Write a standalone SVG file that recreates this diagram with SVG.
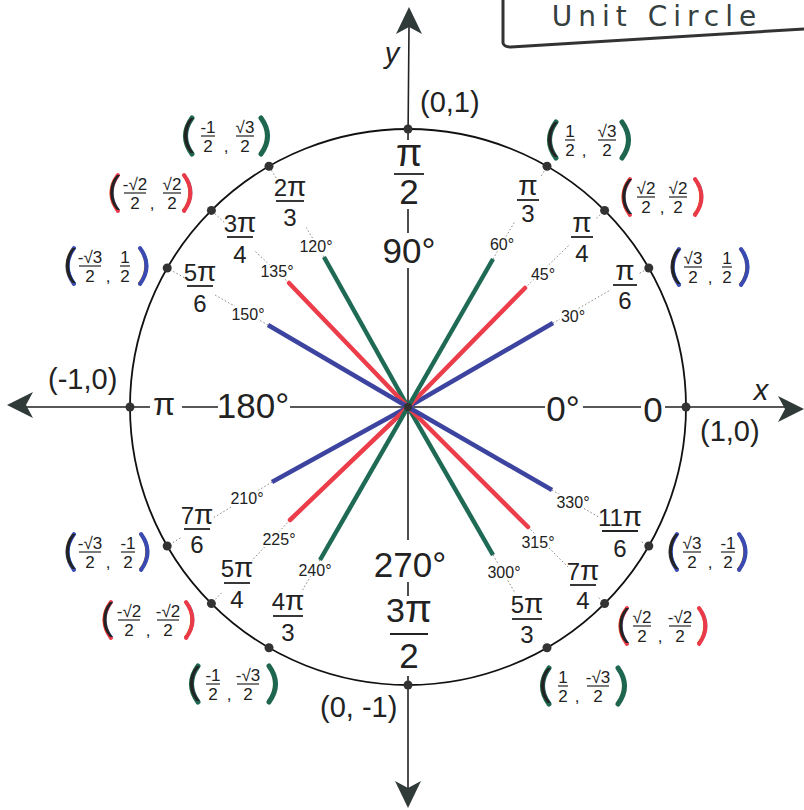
<svg xmlns="http://www.w3.org/2000/svg" width="804" height="810" viewBox="0 0 804 810">
<style>
text{font-family:"Liberation Sans",Arial,sans-serif;fill:#222;text-anchor:middle}
.ax{stroke:#222;stroke-width:1.6;fill:none}
.circ{fill:none;stroke:#111;stroke-width:1.8}
.dot{fill:#333}
.dotted{stroke:#777;stroke-width:0.9;stroke-dasharray:1.5 2.2;fill:none}
.ray{stroke-width:4.5;fill:none}
.blue{stroke:#3d44a0}
.red{stroke:#ec3d4b;stroke-linecap:round}
.green{stroke:#1e6a55}
.deg{font-size:16px;stroke:#fff;stroke-width:4;paint-order:stroke}
.rad{font-size:24px}
.pi{font-size:28px}
.big{font-size:35px;stroke:#fff;stroke-width:4;paint-order:stroke}
.bar{stroke:#222;stroke-width:1.8}
.bg{fill:#fff}
.fn{font-size:17px}
.fb{stroke:#222;stroke-width:1.2}
.pa{font-size:37px}
.hl{fill:none;stroke-width:4;stroke-linecap:round}
.hg{stroke:#1f6650;stroke-width:5}
.hr{stroke:#ea3a4a}
.hb{stroke:#3b4ab0}
.lbl{font-size:29px;text-anchor:start}
.arr{fill:#2f3a39}
</style>

<g id="title">
<path d="M503,0 L503,43 Q504,47 511,47 L804,29" fill="none" stroke="#333" stroke-width="3"/>
<text x="657" y="26" style="font-family:'DejaVu Sans',sans-serif;font-size:28px;letter-spacing:6px;fill:#36403f">Unit  Circle</text>
</g>

<g id="connectors">
<line class="dotted" x1="553" y1="323" x2="648.8" y2="268"/>
<line class="dotted" x1="525" y1="288" x2="604.6" y2="210.4"/>
<line class="dotted" x1="493" y1="259" x2="547" y2="166.2"/>
<line class="dotted" x1="324" y1="257" x2="269" y2="166.2"/>
<line class="dotted" x1="289" y1="283" x2="211.4" y2="210.4"/>
<line class="dotted" x1="268" y1="325" x2="167.2" y2="268"/>
<line class="dotted" x1="272" y1="482" x2="167.2" y2="546"/>
<line class="dotted" x1="290" y1="520" x2="211.4" y2="603.6"/>
<line class="dotted" x1="320" y1="560" x2="269" y2="647.8"/>
<line class="dotted" x1="493" y1="555" x2="547" y2="647.8"/>
<line class="dotted" x1="528" y1="527" x2="604.6" y2="603.6"/>
<line class="dotted" x1="552" y1="490" x2="648.8" y2="546"/>
</g>

<g id="radians">
<g id="r30"><rect class="bg" x="611" y="262" width="28" height="51"/><text class="rad" x="625" y="280"><tspan class="pi">π</tspan></text><line class="bar" x1="613" x2="637" y1="285" y2="285"/><text class="rad" x="625" y="309">6</text></g>
<g id="r45"><rect class="bg" x="569" y="214" width="26" height="51"/><text class="rad" x="582" y="232"><tspan class="pi">π</tspan></text><line class="bar" x1="571" x2="593" y1="237" y2="237"/><text class="rad" x="582" y="262">4</text></g>
<g id="r60"><rect class="bg" x="515" y="177" width="26" height="47"/><text class="rad" x="528" y="195"><tspan class="pi">π</tspan></text><line class="bar" x1="517" x2="539" y1="200" y2="200"/><text class="rad" x="528" y="222">3</text></g>
<g id="r120"><rect class="bg" x="274" y="178" width="32" height="51"/><text class="rad" x="290" y="196">2<tspan class="pi">π</tspan></text><line class="bar" x1="276" x2="304" y1="201" y2="201"/><text class="rad" x="290" y="226">3</text></g>
<g id="r135"><rect class="bg" x="225" y="210" width="30" height="56"/><text class="rad" x="240" y="232">3<tspan class="pi">π</tspan></text><line class="bar" x1="227" x2="253" y1="237" y2="237"/><text class="rad" x="240" y="263">4</text></g>
<g id="r150"><rect class="bg" x="185" y="262" width="30" height="53"/><text class="rad" x="200" y="281">5<tspan class="pi">π</tspan></text><line class="bar" x1="187" x2="213" y1="286" y2="286"/><text class="rad" x="200" y="312">6</text></g>
<g id="r210"><rect class="bg" x="182" y="505" width="30" height="51"/><text class="rad" x="197" y="524">7<tspan class="pi">π</tspan></text><line class="bar" x1="184" x2="210" y1="529" y2="529"/><text class="rad" x="197" y="553">6</text></g>
<g id="r225"><rect class="bg" x="222" y="558" width="30" height="53"/><text class="rad" x="237" y="577">5<tspan class="pi">π</tspan></text><line class="bar" x1="224" x2="250" y1="583" y2="583"/><text class="rad" x="237" y="608">4</text></g>
<g id="r240"><rect class="bg" x="271" y="590" width="34" height="54"/><text class="rad" x="288" y="610">4<tspan class="pi">π</tspan></text><line class="bar" x1="273" x2="303" y1="616" y2="616"/><text class="rad" x="288" y="641">3</text></g>
<g id="r300"><rect class="bg" x="510" y="593" width="34" height="53"/><text class="rad" x="527" y="613">5<tspan class="pi">π</tspan></text><line class="bar" x1="512" x2="542" y1="619" y2="619"/><text class="rad" x="527" y="643">3</text></g>
<g id="r315"><rect class="bg" x="568" y="559" width="30" height="53"/><text class="rad" x="583" y="580">7<tspan class="pi">π</tspan></text><line class="bar" x1="570" x2="596" y1="585" y2="585"/><text class="rad" x="583" y="609">4</text></g>
<g id="r330"><rect class="bg" x="600" y="506" width="40" height="54"/><text class="rad" x="620" y="526">11<tspan class="pi">π</tspan></text><line class="bar" x1="602" x2="638" y1="531" y2="531"/><text class="rad" x="620" y="557">6</text></g>
<g id="r90"><text class="rad" x="409" y="166" style="font-size:38px">π</text><line class="bar" x1="394" x2="424" y1="174" y2="174"/><text class="rad" x="409" y="204" style="font-size:35px">2</text></g>
<g id="r270"><text class="rad" x="409" y="622" style="font-size:34px">3<tspan style="font-size:39px">π</tspan></text><line class="bar" x1="390" x2="428" y1="634" y2="634"/><text class="rad" x="409" y="668" style="font-size:35px">2</text></g>
</g>

<g id="degrees">
<text class="deg" x="573" y="322">30°</text>
<text class="deg" x="543" y="280">45°</text>
<text class="deg" x="502" y="250">60°</text>
<text class="deg" x="316" y="252">120°</text>
<text class="deg" x="277" y="277">135°</text>
<text class="deg" x="248" y="320">150°</text>
<text class="deg" x="247" y="504">210°</text>
<text class="deg" x="279" y="545">225°</text>
<text class="deg" x="315" y="576">240°</text>
<text class="deg" x="504" y="578">300°</text>
<text class="deg" x="538" y="548">315°</text>
<text class="deg" x="573" y="508">330°</text>
</g>

<g id="axes">
<path class="ax" d="M409,27 L408,140 M408,209 L408,233 M408,268 L408,540 M408,582 L408,596 M408,676 L408,788"/>
<path class="ax" d="M26,407 L150,407 M182,407 L218,407 M290,407 L545,407 M583,407 L641,407 M665,407 L786,407"/>
<path class="arr" d="M409,7 L422,34 L409,27 L396,34 Z"/>
<path class="arr" d="M408,808 L395,781 L408,788 L421,781 Z"/>
<path class="arr" d="M7,405 L33,392 L26,405 L33,418 Z"/>
<path class="arr" d="M804,409 L778,396 L785,409 L778,422 Z"/>
<text class="big" x="409" y="263">90°</text>
<text class="big" x="410" y="577">270°</text>
<text class="big" x="253" y="418">180°</text>
<text class="big" x="563" y="421">0°</text>
<text class="big" x="653" y="422">0</text>
<text x="164" y="415" style="font-size:32px">π</text>
<text class="lbl" x="761" y="400" style="text-anchor:middle;font-style:italic">x</text>
<text class="lbl" x="392" y="63" style="text-anchor:middle;font-style:italic">y</text>
</g>

<g id="circle">
<circle class="circ" cx="408" cy="407" r="278"/>
</g>

<g id="rays">
<line class="ray blue" x1="408" y1="407" x2="553" y2="323"/>
<line class="ray red" x1="408" y1="407" x2="525" y2="288"/>
<line class="ray green" x1="408" y1="407" x2="493" y2="259"/>
<line class="ray green" x1="408" y1="407" x2="324" y2="257"/>
<line class="ray red" x1="408" y1="407" x2="289" y2="283"/>
<line class="ray blue" x1="408" y1="407" x2="268" y2="325"/>
<line class="ray blue" x1="408" y1="407" x2="272" y2="482"/>
<line class="ray red" x1="408" y1="407" x2="290" y2="520"/>
<line class="ray green" x1="408" y1="407" x2="320" y2="560"/>
<line class="ray green" x1="408" y1="407" x2="493" y2="555"/>
<line class="ray red" x1="408" y1="407" x2="528" y2="527"/>
<line class="ray blue" x1="408" y1="407" x2="552" y2="490"/>
<circle cx="408" cy="407" r="4" fill="#333"/>
</g>

<g id="dots">
<circle class="dot" cx="408" cy="129" r="4.5"/>
<circle class="dot" cx="686" cy="407" r="4.5"/>
<circle class="dot" cx="130" cy="407" r="4.5"/>
<circle class="dot" cx="408" cy="685" r="4.5"/>
<circle class="dot" cx="648.8" cy="268" r="4.5"/>
<circle class="dot" cx="604.6" cy="210.4" r="4.5"/>
<circle class="dot" cx="547" cy="166.2" r="4.5"/>
<circle class="dot" cx="269" cy="166.2" r="4.5"/>
<circle class="dot" cx="211.4" cy="210.4" r="4.5"/>
<circle class="dot" cx="167.2" cy="268" r="4.5"/>
<circle class="dot" cx="167.2" cy="546" r="4.5"/>
<circle class="dot" cx="211.4" cy="603.6" r="4.5"/>
<circle class="dot" cx="269" cy="647.8" r="4.5"/>
<circle class="dot" cx="547" cy="647.8" r="4.5"/>
<circle class="dot" cx="604.6" cy="603.6" r="4.5"/>
<circle class="dot" cx="648.8" cy="546" r="4.5"/>
</g>

<g id="axis-points">
<text class="lbl" x="420" y="112">(0,1)</text>
<text class="lbl" x="48" y="389">(-1,0)</text>
<text class="lbl" x="700" y="441">(1,0)</text>
<text class="lbl" x="320" y="717">(0, -1)</text>
</g>

<g id="pt60">
<path class="hl hg" d="M556,122 Q543,140 556,158"/><text class="pa" x="552" y="149">(</text>
<text class="fn" x="570" y="137">1</text><line class="fb" x1="565" x2="575" y1="140" y2="140"/><text class="fn" x="570" y="156">2</text>
<text class="fn" x="584" y="156">,</text>
<text class="fn" x="607" y="137">√3</text><line class="fb" x1="598" x2="616" y1="140" y2="140"/><text class="fn" x="607" y="156">2</text>
<text class="pa" x="626" y="149">)</text><path class="hl hg" d="M622,122 Q635,140 622,158"/>
</g>
<g id="pt45">
<path class="hl hr" d="M630,179 Q617,197 630,215"/><text class="pa" x="626" y="206">(</text>
<text class="fn" x="646" y="194">√2</text><line class="fb" x1="637" x2="655" y1="197" y2="197"/><text class="fn" x="646" y="213">2</text>
<text class="fn" x="662" y="213">,</text>
<text class="fn" x="678" y="194">√2</text><line class="fb" x1="669" x2="687" y1="197" y2="197"/><text class="fn" x="678" y="213">2</text>
<text class="pa" x="699" y="206">)</text><path class="hl hr" d="M695,179 Q708,197 695,215"/>
</g>
<g id="pt30">
<path class="hl hb" d="M679,249 Q666,267 679,285"/><text class="pa" x="675" y="276">(</text>
<text class="fn" x="693" y="264">√3</text><line class="fb" x1="684" x2="702" y1="267" y2="267"/><text class="fn" x="693" y="283">2</text>
<text class="fn" x="710" y="283">,</text>
<text class="fn" x="727" y="264">1</text><line class="fb" x1="722" x2="732" y1="267" y2="267"/><text class="fn" x="727" y="283">2</text>
<text class="pa" x="745" y="276">)</text><path class="hl hb" d="M741,249 Q754,267 741,285"/>
</g>
<g id="pt120">
<path class="hl hg" d="M192,118 Q179,136 192,154"/><text class="pa" x="188" y="145">(</text>
<text class="fn" x="208" y="133">-1</text><line class="fb" x1="201" x2="215" y1="136" y2="136"/><text class="fn" x="208" y="152">2</text>
<text class="fn" x="226" y="152">,</text>
<text class="fn" x="245" y="133">√3</text><line class="fb" x1="236" x2="254" y1="136" y2="136"/><text class="fn" x="245" y="152">2</text>
<text class="pa" x="265" y="145">)</text><path class="hl hg" d="M261,118 Q274,136 261,154"/>
</g>
<g id="pt135">
<path class="hl hr" d="M118,175 Q105,193 118,211"/><text class="pa" x="114" y="202">(</text>
<text class="fn" x="135" y="190">-√2</text><line class="fb" x1="124" x2="146" y1="193" y2="193"/><text class="fn" x="135" y="209">2</text>
<text class="fn" x="152" y="209">,</text>
<text class="fn" x="172" y="190">√2</text><line class="fb" x1="163" x2="181" y1="193" y2="193"/><text class="fn" x="172" y="209">2</text>
<text class="pa" x="188" y="202">)</text><path class="hl hr" d="M184,175 Q197,193 184,211"/>
</g>
<g id="pt150">
<path class="hl hb" d="M74,248 Q61,266 74,284"/><text class="pa" x="70" y="275">(</text>
<text class="fn" x="90" y="263">-√3</text><line class="fb" x1="79" x2="101" y1="266" y2="266"/><text class="fn" x="90" y="282">2</text>
<text class="fn" x="108" y="282">,</text>
<text class="fn" x="125" y="263">1</text><line class="fb" x1="120" x2="130" y1="266" y2="266"/><text class="fn" x="125" y="282">2</text>
<text class="pa" x="144" y="275">)</text><path class="hl hb" d="M140,248 Q153,266 140,284"/>
</g>
<g id="pt210">
<path class="hl hb" d="M74,534 Q61,552 74,570"/><text class="pa" x="70" y="561">(</text>
<text class="fn" x="90" y="549">-√3</text><line class="fb" x1="79" x2="101" y1="552" y2="552"/><text class="fn" x="90" y="568">2</text>
<text class="fn" x="108" y="568">,</text>
<text class="fn" x="128" y="549">-1</text><line class="fb" x1="121" x2="135" y1="552" y2="552"/><text class="fn" x="128" y="568">2</text>
<text class="pa" x="145" y="561">)</text><path class="hl hb" d="M141,534 Q154,552 141,570"/>
</g>
<g id="pt225">
<path class="hl hr" d="M111,602 Q98,620 111,638"/><text class="pa" x="107" y="629">(</text>
<text class="fn" x="129" y="617">-√2</text><line class="fb" x1="118" x2="140" y1="620" y2="620"/><text class="fn" x="129" y="636">2</text>
<text class="fn" x="148" y="636">,</text>
<text class="fn" x="168" y="617">-√2</text><line class="fb" x1="157" x2="179" y1="620" y2="620"/><text class="fn" x="168" y="636">2</text>
<text class="pa" x="190" y="629">)</text><path class="hl hr" d="M186,602 Q199,620 186,638"/>
</g>
<g id="pt240">
<path class="hl hg" d="M198,666 Q185,684 198,702"/><text class="pa" x="194" y="693">(</text>
<text class="fn" x="213" y="681">-1</text><line class="fb" x1="206" x2="220" y1="684" y2="684"/><text class="fn" x="213" y="700">2</text>
<text class="fn" x="229" y="700">,</text>
<text class="fn" x="248" y="681">-√3</text><line class="fb" x1="237" x2="259" y1="684" y2="684"/><text class="fn" x="248" y="700">2</text>
<text class="pa" x="273" y="693">)</text><path class="hl hg" d="M269,666 Q282,684 269,702"/>
</g>
<g id="pt300">
<path class="hl hg" d="M549,668 Q536,686 549,704"/><text class="pa" x="545" y="695">(</text>
<text class="fn" x="563" y="683">1</text><line class="fb" x1="558" x2="568" y1="686" y2="686"/><text class="fn" x="563" y="702">2</text>
<text class="fn" x="577" y="702">,</text>
<text class="fn" x="598" y="683">-√3</text><line class="fb" x1="587" x2="609" y1="686" y2="686"/><text class="fn" x="598" y="702">2</text>
<text class="pa" x="622" y="695">)</text><path class="hl hg" d="M618,668 Q631,686 618,704"/>
</g>
<g id="pt315">
<path class="hl hr" d="M627,608 Q614,626 627,644"/><text class="pa" x="623" y="635">(</text>
<text class="fn" x="642" y="623">√2</text><line class="fb" x1="633" x2="651" y1="626" y2="626"/><text class="fn" x="642" y="642">2</text>
<text class="fn" x="660" y="642">,</text>
<text class="fn" x="680" y="623">-√2</text><line class="fb" x1="669" x2="691" y1="626" y2="626"/><text class="fn" x="680" y="642">2</text>
<text class="pa" x="703" y="635">)</text><path class="hl hr" d="M699,608 Q712,626 699,644"/>
</g>
<g id="pt330">
<path class="hl hb" d="M677,534 Q664,552 677,570"/><text class="pa" x="673" y="561">(</text>
<text class="fn" x="692" y="549">√3</text><line class="fb" x1="683" x2="701" y1="552" y2="552"/><text class="fn" x="692" y="568">2</text>
<text class="fn" x="710" y="568">,</text>
<text class="fn" x="728" y="549">-1</text><line class="fb" x1="721" x2="735" y1="552" y2="552"/><text class="fn" x="728" y="568">2</text>
<text class="pa" x="743" y="561">)</text><path class="hl hb" d="M739,534 Q752,552 739,570"/>
</g>
</svg>
